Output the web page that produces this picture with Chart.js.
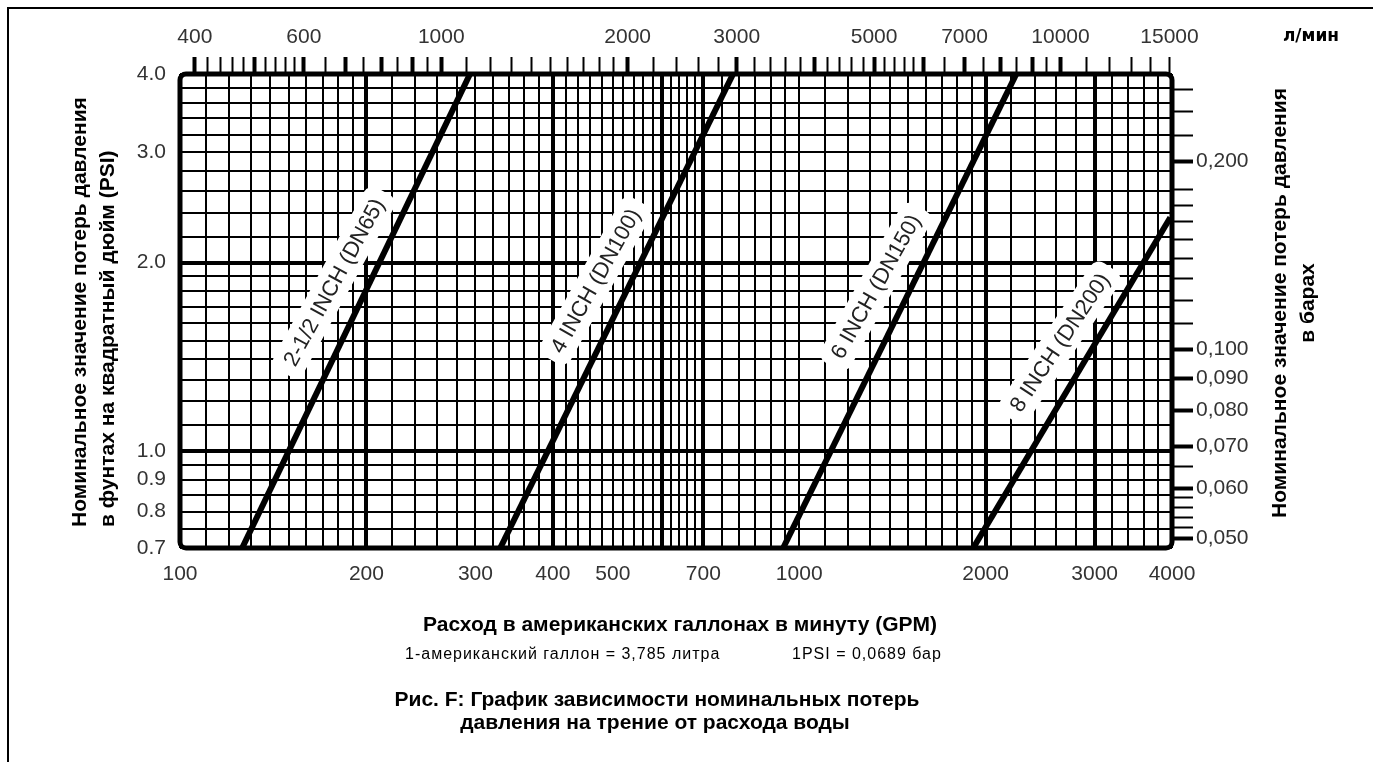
<!DOCTYPE html>
<html lang="ru">
<head>
<meta charset="utf-8">
<title>Рис. F</title>
<script src="https://cdn.jsdelivr.net/npm/chart.js@4.4.1/dist/chart.umd.min.js"></script>
<style>
    html, body { margin: 0; padding: 0; background: #fff; }
    #wrap { position: relative; width: 1373px; height: 762px; overflow: hidden; }
    #page-border { position: absolute; left: 7px; top: 7px; width: 1400px; height: 800px; border-left: 2px solid #000; border-top: 2px solid #000; }
    canvas { position: absolute; left: 0; top: 0; }
</style>
</head>
<body>
<div id="wrap">
    <div id="page-border"></div>
    <canvas id="myChart" width="1373" height="762"></canvas>
</div>
<script>
// 1 US gallon = 3.785 l, 1 PSI = 0.0689 bar (from the chart notes)
const GAL_TO_L = 3.785;
const PSI_TO_BAR = 0.0689;

// pipe lines: start / end points (GPM, PSI)
const pipeLabels = ['2-1/2 INCH (DN65)', '4 INCH (DN100)', '6 INCH (DN150)', '8 INCH (DN200)'];
const flowFromGpm = [126, 329, 942, 1910];
const flowToGpm = [294, 782, 2242, 3975];
const lossFromPsi = [0.7, 0.7, 0.7, 0.7];
const lossToPsi = [4.0, 4.0, 4.0, 2.36];
const labelAtPsi = [1.86, 1.87, 1.83, 1.49];

// bottom axis (GPM)
const gpmGrid = [
    100, 110, 120, 130, 140, 150, 160, 170, 180, 190, 200,
    220, 240, 260, 280, 300, 320, 340, 360, 380, 400,
    420, 440, 460, 480, 500, 520, 540, 560, 580, 600, 620, 640, 660, 680, 700,
    750, 800, 850, 900, 950, 1000,
    1100, 1200, 1300, 1400, 1500, 1600, 1700, 1800, 1900, 2000,
    2200, 2400, 2600, 2800, 3000, 3200, 3400, 3600, 3800, 4000,
];
const gpmLabels = [100, 200, 300, 400, 500, 700, 1000, 2000, 3000, 4000];
const gpmBold = [200, 400, 600, 700, 2000, 3000];

// left axis (PSI)
const psiGrid = [
    0.7, 0.75, 0.8, 0.85, 0.9, 0.95,
    1.0, 1.1, 1.2, 1.3, 1.4, 1.5, 1.6, 1.7, 1.8, 1.9,
    2.0, 2.2, 2.4, 2.6, 2.8, 3.0, 3.2, 3.4, 3.6, 3.8, 4.0,
];
const psiLabels = [0.7, 0.8, 0.9, 1.0, 2.0, 3.0, 4.0];
const psiBold = [1.0, 2.0];

// top axis (л/мин)
const lpmTicks = [
    400, 420, 440, 460, 480, 500, 520, 540, 560, 580, 600,
    650, 700, 750, 800, 850, 900, 950, 1000,
    1100, 1200, 1300, 1400, 1500, 1600, 1700, 1800, 1900, 2000,
    2200, 2400, 2600, 2800, 3000, 3200, 3400, 3600, 3800, 4000,
    4200, 4400, 4600, 4800, 5000, 5200, 5400, 5600, 5800, 6000,
    6500, 7000, 7500, 8000, 8500, 9000, 9500, 10000,
    11000, 12000, 13000, 14000, 15000,
];
const lpmLabels = [400, 600, 1000, 2000, 3000, 5000, 7000, 10000, 15000];
const lpmBold = [400, 500, 600, 700, 800, 900, 1000, 2000, 3000, 4000, 5000, 6000, 7000, 8000, 9000, 10000];

// right axis (бар)
const barTicks = [
    0.26, 0.24, 0.22, 0.2, 0.18, 0.17, 0.16, 0.15, 0.14, 0.13, 0.12, 0.11,
    0.1, 0.09, 0.08, 0.07, 0.065, 0.06, 0.058, 0.056, 0.054, 0.052, 0.05,
];
const barLabels = [0.2, 0.1, 0.09, 0.08, 0.07, 0.06, 0.05];

const TICK_FONT = { family: "'Liberation Sans', Arial, sans-serif", size: 21 };
const TICK_COLOR = '#333';

/**
 * 線の横にラベル、枠線、説明文を描きます。
 */
const chartDecor = {
    id: 'chartDecor',
    beforeDatasetsDraw(chart) {
        const { ctx, scales } = chart;
        const x = scales.x;
        const y = scales.y;

        pipeLabels.forEach((label, i) => {
            const x1 = x.getPixelForValue(flowFromGpm[i]);
            const y1 = y.getPixelForValue(lossFromPsi[i]);
            const x2 = x.getPixelForValue(flowToGpm[i]);
            const y2 = y.getPixelForValue(lossToPsi[i]);
            const ay = y.getPixelForValue(labelAtPsi[i]);
            const ax = x1 + (x2 - x1) * (ay - y1) / (y2 - y1);
            const angle = Math.atan2(y2 - y1, x2 - x1) + 3 * Math.PI / 180;

            ctx.save();
            ctx.translate(ax - 36, ay);
            ctx.rotate(angle);
            ctx.font = "22px 'Liberation Sans', Arial, sans-serif";
            const w = ctx.measureText(label).width;
            ctx.fillStyle = '#fff';
            ctx.beginPath();
            ctx.roundRect(-w / 2 - 10, -17, w + 20, 34, 10);
            ctx.fill();
            ctx.fillStyle = '#222';
            ctx.textAlign = 'center';
            ctx.textBaseline = 'middle';
            ctx.fillText(label, 0, 1);
            ctx.restore();
        });
    },
    afterDatasetsDraw(chart) {
        const { ctx, chartArea } = chart;
        ctx.save();
        ctx.strokeStyle = '#000';
        ctx.lineWidth = 5;
        ctx.beginPath();
        ctx.roundRect(chartArea.left, chartArea.top, chartArea.right - chartArea.left, chartArea.bottom - chartArea.top, 6);
        ctx.stroke();
        ctx.restore();
    },
    afterDraw(chart) {
        const { ctx } = chart;
        ctx.save();
        ctx.fillStyle = '#000';
        ctx.textBaseline = 'middle';

        // left title
        ctx.font = "bold 21px 'Liberation Sans', Arial, sans-serif";
        ctx.save();
        ctx.translate(80, 527);
        ctx.rotate(-Math.PI / 2);
        ctx.textAlign = 'left';
        ctx.fillText('Номинальное значение потерь давления', 0, 0);
        ctx.fillText('в фунтах на квадратный дюйм (PSI)', 0, 28);
        ctx.restore();

        // right title
        ctx.save();
        ctx.translate(1280, 303);
        ctx.rotate(-Math.PI / 2);
        ctx.textAlign = 'center';
        ctx.fillText('Номинальное значение потерь давления', 0, 0);
        ctx.fillText('в барах', 0, 28);
        ctx.restore();

        // unit on the top axis
        ctx.font = "bold 17px 'DejaVu Sans', sans-serif";
        ctx.textAlign = 'center';
        ctx.fillText('л/мин', 1311, 37);

        // bottom texts
        ctx.font = "bold 21px 'Liberation Sans', Arial, sans-serif";
        ctx.fillText('Расход в американских галлонах в минуту (GPM)', 680, 625);

        ctx.font = "16px 'Liberation Sans', Arial, sans-serif";
        ctx.textAlign = 'left';
        ctx.letterSpacing = '1px';
        ctx.fillText('1-американский галлон = 3,785 литра', 405, 655);
        ctx.fillText('1PSI = 0,0689 бар', 792, 655);
        ctx.letterSpacing = '0px';

        ctx.font = "bold 21px 'Liberation Sans', Arial, sans-serif";
        ctx.textAlign = 'center';
        ctx.fillText('Рис. F: График зависимости номинальных потерь', 657, 700);
        ctx.fillText('давления на трение от расхода воды', 655, 723);
        ctx.restore();
    },
};

const datasets = pipeLabels.map((label, i) => ({
    label: label,
    data: [
        { x: flowFromGpm[i], y: lossFromPsi[i] },
        { x: flowToGpm[i], y: lossToPsi[i] },
    ],
    borderColor: '#000',
    borderWidth: 6,
    pointRadius: 0,
    borderCapStyle: 'butt',
}));

const config = {
    type: 'line',
    data: { datasets: datasets },
    options: {
        responsive: false,
        animation: false,
        layout: { padding: 0 },
        plugins: {
            legend: { display: false },
            tooltip: { enabled: false },
        },
        scales: {
            x: {
                type: 'logarithmic',
                position: 'bottom',
                min: 100,
                max: 4000,
                afterBuildTicks: (scale) => { scale.ticks = gpmGrid.map((v) => ({ value: v })); },
                afterFit: (scale) => { scale.height = 214; },
                grid: {
                    color: '#000',
                    lineWidth: (c) => (c.tick && gpmBold.includes(c.tick.value) ? 4 : 2),
                    drawTicks: false,
                },
                border: { display: false },
                ticks: {
                    autoSkip: false,
                    maxRotation: 0,
                    minRotation: 0,
                    padding: 14,
                    color: TICK_COLOR,
                    font: TICK_FONT,
                    callback: (v) => (gpmLabels.includes(v) ? String(v) : ''),
                },
            },
            y: {
                type: 'logarithmic',
                position: 'left',
                min: 0.7,
                max: 4.0,
                afterBuildTicks: (scale) => { scale.ticks = psiGrid.map((v) => ({ value: v })); },
                afterFit: (scale) => { scale.width = 180; },
                grid: {
                    color: '#000',
                    lineWidth: (c) => (c.tick && psiBold.includes(c.tick.value) ? 4 : 2),
                    drawTicks: false,
                },
                border: { display: false },
                ticks: {
                    autoSkip: false,
                    padding: 14,
                    color: TICK_COLOR,
                    font: TICK_FONT,
                    callback: (v) => (psiLabels.includes(v) ? v.toFixed(1) : ''),
                },
            },
            x2: {
                type: 'logarithmic',
                position: 'top',
                min: 100 * GAL_TO_L,
                max: 4000 * GAL_TO_L,
                afterBuildTicks: (scale) => { scale.ticks = lpmTicks.map((v) => ({ value: v })); },
                afterFit: (scale) => { scale.height = 74; },
                grid: {
                    drawOnChartArea: false,
                    drawTicks: true,
                    tickLength: 17,
                    tickColor: '#000',
                    tickWidth: (c) => (c.tick && lpmBold.includes(c.tick.value) ? 4 : 2),
                },
                border: { display: false },
                ticks: {
                    autoSkip: false,
                    maxRotation: 0,
                    minRotation: 0,
                    padding: 7,
                    color: TICK_COLOR,
                    font: TICK_FONT,
                    callback: (v) => (lpmLabels.includes(v) ? String(v) : ''),
                },
            },
            y2: {
                type: 'logarithmic',
                position: 'right',
                min: 0.7 * PSI_TO_BAR,
                max: 4.0 * PSI_TO_BAR,
                afterBuildTicks: (scale) => { scale.ticks = barTicks.map((v) => ({ value: v })); },
                afterFit: (scale) => { scale.width = 201; },
                grid: {
                    drawOnChartArea: false,
                    drawTicks: true,
                    tickLength: 21,
                    tickColor: '#000',
                    tickWidth: (c) => (c.tick && barLabels.includes(c.tick.value) ? 4 : 2),
                },
                border: { display: false },
                ticks: {
                    autoSkip: false,
                    padding: 3,
                    color: TICK_COLOR,
                    font: TICK_FONT,
                    callback: (v) => (barLabels.includes(v) ? v.toFixed(3).replace('.', ',') : ''),
                },
            },
        },
    },
    plugins: [chartDecor],
};

const myChart = new Chart(document.getElementById('myChart'), config);
</script>
</body>
</html>
